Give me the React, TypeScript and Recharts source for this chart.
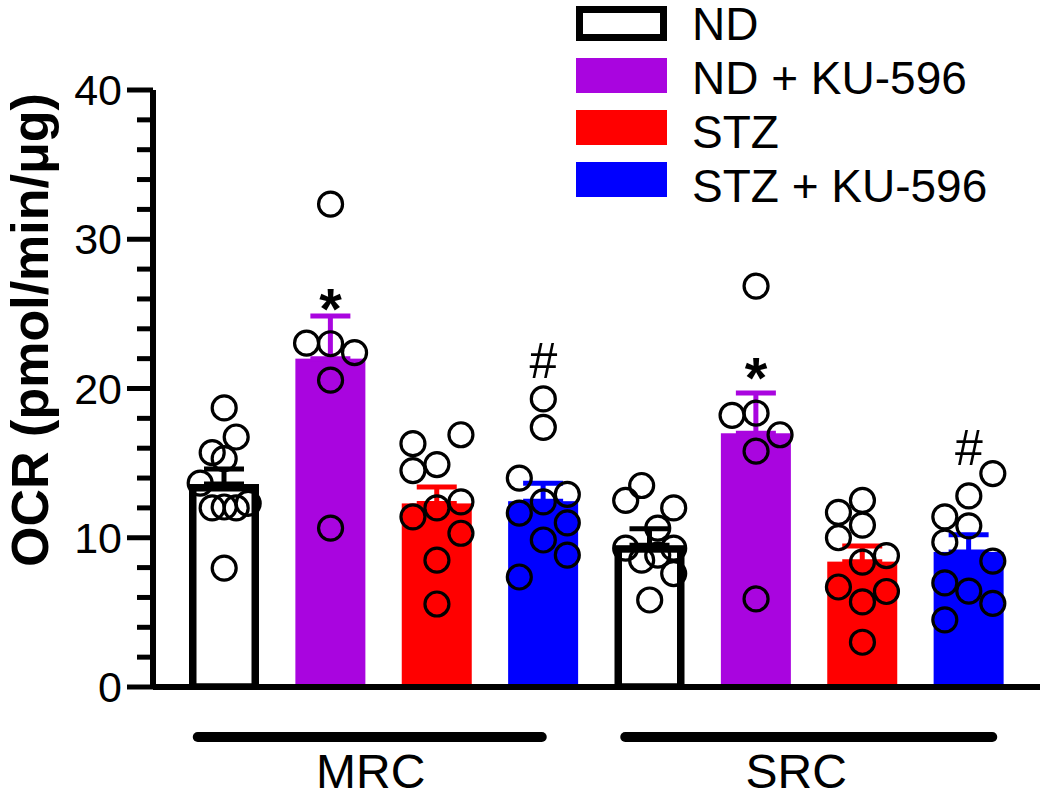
import React from "react";
import { ComposedChart, Bar, XAxis, YAxis, ErrorBar, Scatter, Legend } from "recharts";

const FONT = "Liberation Sans, Arial, Helvetica, sans-serif";

const groups = ["MRC", "SRC"];
const treatments = ["ND", "ND + KU-596", "STZ", "STZ + KU-596"];
const seriesKeys = ["nd", "ndKu", "stz", "stzKu"];
const colors = ["#FFFFFF", "#A905DF", "#FF0000", "#0000FF"];
const errColors = ["#000000", "#A905DF", "#FF0000", "#0000FF"];

// bar means and SEM
const meanMRC = [13.6, 22.0, 12.3, 12.45];
const semMRC = [1.0, 2.85, 1.1, 1.2];
const meanSRC = [9.5, 17.0, 8.4, 9.05];
const semSRC = [1.1, 2.7, 1.05, 1.15];

const yTicks = [0, 2, 4, 6, 8, 10, 12, 14, 16, 18, 20, 22, 24, 26, 28, 30, 32, 34, 36, 38, 40];

// individual values (jit = horizontal scatter slot)
const mrcND = [18.7, 16.75, 15.7, 15.3, 13.66, 12.0, 12.06, 12.0, 12.3, 7.97];
const mrcNDJit = [0, 1, -1, 0, -2, -1, 0, 1, 2, 0];
const mrcNDKu = [32.35, 23.04, 23.0, 22.4, 20.56, 10.65];
const mrcNDKuJit = [0, -2, 0, 2, 0, 0];
const mrcSTZ = [16.3, 16.9, 14.5, 14.9, 12.4, 12.0, 11.4, 10.3, 8.5, 5.56];
const mrcSTZJit = [-2, 2, -2, 0, 2, 0, -2, 2, 0, 0];
const mrcSTZKu = [19.3, 17.4, 14.0, 12.9, 12.4, 11.65, 11.0, 9.85, 8.84, 7.37];
const mrcSTZKuJit = [0, 0, -2, 2, 0, -2, 2, 0, 2, -2];
const srcND = [13.5, 12.5, 12.0, 10.65, 9.3, 8.5, 8.84, 9.3, 7.6, 5.83];
const srcNDJit = [-0.67, -2, 2, 0.67, -2, -0.67, 0.67, 2, 2, 0];
const srcNDKu = [26.86, 18.2, 18.35, 16.9, 15.8, 5.9];
const srcNDKuJit = [0, -2, 0, 2, 0, 0];
const srcSTZ = [11.7, 12.5, 10.85, 10.0, 8.8, 8.37, 6.7, 6.4, 5.7, 3.0];
const srcSTZJit = [-2, 0, 0, -2, 2, 0, -2, 2, 0, 0];
const srcSTZKu = [14.3, 12.8, 11.4, 10.8, 9.7, 8.44, 6.97, 6.43, 5.6, 4.5];
const srcSTZKuJit = [2, 0, -2, 0, -2, 2, -2, 0, 2, -2];

// significance marks
const sigText = ["", "*", "", "#", "", "*", "", "#"];
const sigLevel = [0, 26.1, 0, 21.9, 0, 21.5, 0, 16.1];

const rows = groups.flatMap((g, gi) =>
  treatments.map((t, ti) => {
    const mean = gi === 0 ? meanMRC[ti] : meanSRC[ti];
    const sem = gi === 0 ? semMRC[ti] : semSRC[ti];
    const row: any = { cat: `${g} ${t}`, group: g, tr: ti, sem };
    seriesKeys.forEach((k, ki) => {
      row[k] = ki === ti ? mean : null;
    });
    return row;
  })
);

const pointSets: [number[], number[]][] = [
  [mrcND, mrcNDJit],
  [mrcNDKu, mrcNDKuJit],
  [mrcSTZ, mrcSTZJit],
  [mrcSTZKu, mrcSTZKuJit],
  [srcND, srcNDJit],
  [srcNDKu, srcNDKuJit],
  [srcSTZ, srcSTZJit],
  [srcSTZKu, srcSTZKuJit],
];
const points = pointSets.flatMap(([vals, jit], ci) =>
  vals.map((v, j) => ({ x: ci + 0.5, y: v, jit: jit[j] }))
);
const marks = sigText
  .map((s, i) => ({ x: i + 0.5, y: sigLevel[i], text: s }))
  .filter((m) => m.text !== "");

const groupStyle: Record<string, { l: number; r: number }> = {
  MRC: { l: -186, r: 158 },
  SRC: { l: -184, r: 183 },
};

const renderBar = (p: any, key: string, ti: number) => {
  const { x, y, width, height, payload } = p;
  if (!payload || payload[key] == null || !height) return <g />;
  if (ti === 0) {
    const sw = 7.5;
    return (
      <rect x={x + sw / 2} y={y + sw / 2} width={width - sw} height={height - sw / 2}
        fill="#fff" stroke="#000" strokeWidth={sw} />
    );
  }
  return <rect x={x} y={y} width={width} height={height} fill={colors[ti]} />;
};

const YTick = ({ x, y, payload }: any) => {
  const major = payload.value % 10 === 0;
  return (
    <g>
      <line x1={x - (major ? 26 : 16)} x2={x} y1={y} y2={y} stroke="#000" strokeWidth={5} />
      {major && (
        <text x={x - 31} y={y} dy={15} textAnchor="end" fontSize={43} fontFamily={FONT} fill="#000">
          {payload.value}
        </text>
      )}
    </g>
  );
};

const GroupTick = ({ x, y, payload }: any) => {
  const s = groupStyle[payload.value] || { l: -180, r: 180 };
  return (
    <g>
      <line x1={x + s.l} x2={x + s.r} y1={y + 20} y2={y + 20} stroke="#000" strokeWidth={10} strokeLinecap="round" />
      <text x={x - 13} y={y + 71} textAnchor="middle" fontSize={48} fontFamily={FONT} fill="#000">
        {payload.value}
      </text>
    </g>
  );
};

const Dot = (p: any) => {
  const { cx, cy, payload } = p;
  return <circle cx={cx + payload.jit * 12} cy={cy} r={12} fill="none" stroke="#000" strokeWidth={3.2} />;
};

const SigMark = (p: any) => {
  const { cx, cy, payload } = p;
  const star = payload.text === "*";
  return (
    <text x={cx} y={cy} dy={star ? 32 : 18} textAnchor="middle" fontSize={star ? 58 : 50}
      fontWeight={star ? "bold" : "normal"} fontFamily={FONT} fill="#000">
      {payload.text}
    </text>
  );
};

const LegendBox = () => (
  <svg width={480} height={225} style={{ overflow: "visible" }}>
    {treatments.map((t, i) => (
      <g key={t}>
        {i === 0 ? (
          <rect x={9.5} y={9.5} width={84} height={28} fill="#fff" stroke="#000" strokeWidth={7} />
        ) : (
          <rect x={6} y={6 + i * 52} width={91} height={35} fill={colors[i]} />
        )}
        <text x={122} y={40 + i * 54} fontSize={46} fontFamily={FONT} fill="#000">
          {t}
        </text>
      </g>
    ))}
  </svg>
);

export default function App() {
  return (
    <div style={{ position: "absolute", left: 0, top: 0, background: "#fff", fontFamily: FONT }}>
      <ComposedChart width={1050} height={799} data={rows}
        margin={{ top: 90, right: 10, bottom: 0, left: 0 }}>
        <XAxis xAxisId={0} dataKey="cat" type="category" padding={{ left: 18, right: 18 }}
          height={30} tick={false} tickSize={26} interval={0}
          tickLine={{ stroke: "#000", strokeWidth: 5 }}
          axisLine={{ stroke: "#000", strokeWidth: 6 }} />
        <XAxis xAxisId="grp" dataKey="group" type="category" allowDuplicatedCategory={false}
          padding={{ left: 18, right: 18 }} height={82} axisLine={false} tickLine={false}
          tickSize={0} tickMargin={0} interval={0} tick={<GroupTick />} />
        <XAxis xAxisId="pts" dataKey="x" type="number" domain={[0, 8]} hide
          padding={{ left: 18, right: 18 }} />
        <YAxis domain={[0, 40]} ticks={yTicks} interval={0} width={153} tickSize={0} tickMargin={0}
          tickLine={false} tick={<YTick />} allowDataOverflow
          axisLine={{ stroke: "#000", strokeWidth: 6 }}
          label={{
            content: () => (
              <text x={30} y={330} transform="rotate(-90, 30, 330)" textAnchor="middle"
                dominantBaseline="central" fontSize={52} fontWeight="bold" fontFamily={FONT} fill="#000">
                OCR (pmol/min/μg)
              </text>
            ),
          }} />
        <Legend layout="vertical" align="center" verticalAlign="middle" content={() => <LegendBox />}
          wrapperStyle={{ position: "absolute", left: 570, top: 0, width: 480, height: 225 }} />
        {seriesKeys.map((k, ti) => (
          <Bar key={k} dataKey={k} name={treatments[ti]} stackId="s" barSize={70}
            isAnimationActive={false} shape={(p: any) => renderBar(p, k, ti)}>
            <ErrorBar
              dataKey={(d: any) => {
                const r = d && d.payload ? d.payload : d;
                return r && r.tr === ti ? [0, r.sem] : null;
              }}
              direction="y" width={20} strokeWidth={5} stroke={errColors[ti]}
              isAnimationActive={false} />
          </Bar>
        ))}
        <Scatter xAxisId="pts" data={points} dataKey="y" shape={Dot} isAnimationActive={false} />
        <Scatter xAxisId="pts" data={marks} dataKey="y" shape={SigMark} isAnimationActive={false} />
      </ComposedChart>
    </div>
  );
}
